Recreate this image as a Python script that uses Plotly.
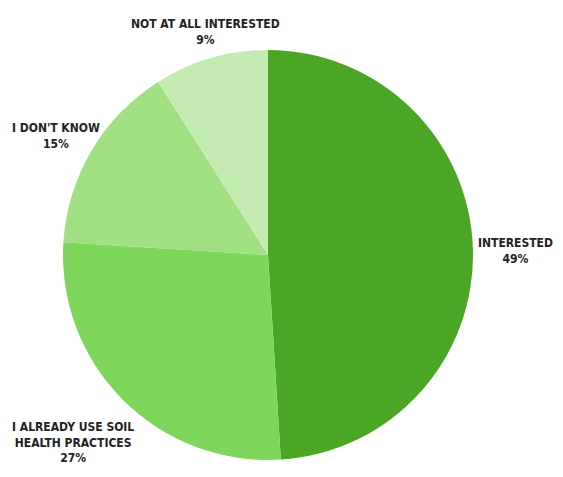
import plotly.graph_objects as go

categories = ["INTERESTED", "I ALREADY USE SOIL<br>HEALTH PRACTICES", "I DON'T KNOW", "NOT AT ALL INTERESTED"]
values = [49, 27, 15, 9]
colors = ["#4ca626", "#7ed65a", "#a0e082", "#c4ecb2"]

W, H = 563, 477
# label centres in pixel space (x, y of block centre)
label_pos = [(515, 251), (73, 442), (56, 136), (205, 32)]

fig = go.Figure(go.Pie(
    labels=categories,
    values=values,
    sort=False,
    direction="clockwise",
    rotation=0,
    marker=dict(colors=colors, line=dict(width=0)),
    textinfo="none",
    hoverinfo="label+percent",
    showlegend=False,
    domain=dict(x=[63 / W, 473 / W], y=[1 - 460 / H, 1 - 50 / H]),
))

for cat, val, (px, py) in zip(categories, values, label_pos):
    fig.add_annotation(
        x=px / W, y=1 - py / H, xref="paper", yref="paper",
        text=f"{cat}<br>{val}%", showarrow=False,
        xanchor="center", yanchor="middle", align="center",
        font=dict(family="DejaVu Sans Condensed, Roboto, sans-serif",
                  size=12, color="#222222", weight="bold"),
    )

fig.update_layout(
    width=W, height=H,
    margin=dict(l=0, r=0, t=0, b=0),
    paper_bgcolor="white", plot_bgcolor="white",
)
fig.write_html("out.html")
